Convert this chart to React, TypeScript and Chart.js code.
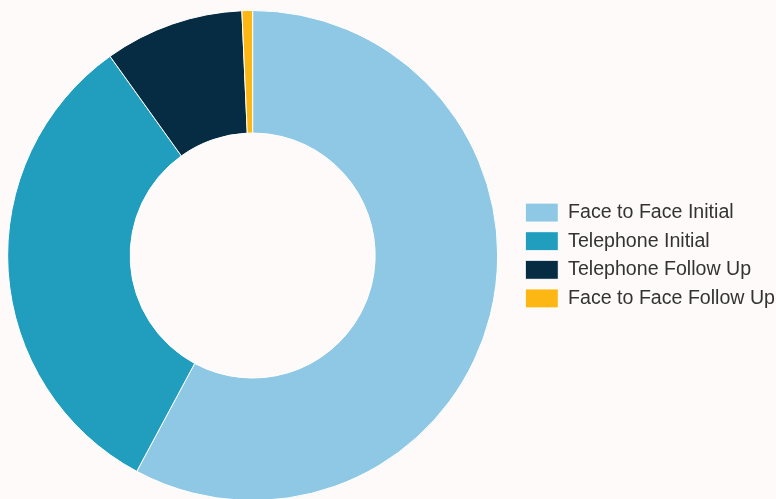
import React, { useEffect, useRef } from "react";
import { Chart, registerables } from "chart.js";

Chart.register(...registerables);

const categories = [
  "Face to Face Initial",
  "Telephone Initial",
  "Telephone Follow Up",
  "Face to Face Follow Up",
];
const values = [57.9, 32.3, 9.2, 0.7];
const colors = ["#8FC8E4", "#219DBE", "#052C42", "#FDB714"];

export default function App() {
  const ref = useRef<HTMLCanvasElement | null>(null);

  useEffect(() => {
    if (!ref.current) return;
    const chart = new Chart(ref.current, {
      type: "doughnut",
      data: {
        labels: categories,
        datasets: [
          {
            data: values,
            backgroundColor: colors,
            borderColor: "#ffffff",
            borderWidth: 1,
            hoverOffset: 0,
          },
        ],
      },
      options: {
        responsive: false,
        animation: false,
        devicePixelRatio: 1,
        cutout: "50%",
        layout: { padding: { top: 10, bottom: 0, left: 0, right: 0 } },
        plugins: {
          tooltip: { enabled: false },
          legend: {
            position: "right",
            labels: {
              boxWidth: 33,
              boxHeight: 19,
              padding: 9,
              color: "#333333",
              font: { family: "'Liberation Sans', Arial, sans-serif", size: 19.6 },
            },
          },
        },
      },
    });
    return () => chart.destroy();
  }, []);

  return (
    <div
      style={{
        position: "fixed",
        left: 0,
        top: 0,
        width: 776,
        height: 499,
        overflow: "hidden",
        background: "#FFFAFA",
      }}
    >
      <canvas
        ref={ref}
        width={796}
        height={501}
        style={{ position: "absolute", left: -11, top: 0, width: 796, height: 501 }}
      />
    </div>
  );
}
